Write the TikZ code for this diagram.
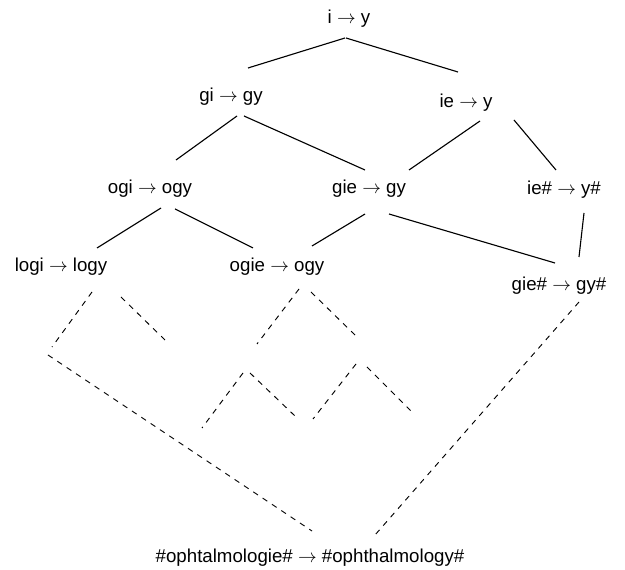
\documentclass[tikz,border=0pt]{standalone}
\usepackage{fontspec}
\setmainfont{Liberation Sans}
\usepackage{tikz}
\usetikzlibrary{positioning,calc}
\tikzstyle{rewrite}=[inner sep=0pt,font=\fontsize{10}{12}\selectfont]
\tikzstyle{mylink}=[line width=0.6pt]
\tikzstyle{mydots}=[dashed,line width=0.5pt]

\begin{document}
\begin{tikzpicture}[x=0.535pt,y=-0.535pt]
                \useasboundingbox (0,0) rectangle (625,570);

                \node[rewrite] (iy) at (349,19) {i $\rightarrow$ y};
                \node[rewrite] (giy) at (231,97) {gi $\rightarrow$ gy};
                \node[rewrite] (iey) at (466,103) {ie $\rightarrow$ y};
                \node[rewrite] (ogi) at (150,189) {ogi $\rightarrow$ ogy};
                \node[rewrite] (gie) at (369,189) {gie $\rightarrow$ gy};
                \node[rewrite] (ieh) at (564,190) {ie\# $\rightarrow$ y\#};
                \node[rewrite] (logi) at (61,267) {logi $\rightarrow$ logy};
                \node[rewrite] (ogie) at (277,267) {ogie $\rightarrow$ ogy};
                \node[rewrite] (gieh) at (559,286) {gie\# $\rightarrow$ gy\#};
                \node[rewrite] (oph) at (310,558) {\#ophtalmologie\# $\rightarrow$ \#ophthalmology\#};

                \draw[mylink] ([shift={(-4,19)}]iy.center) -- ([shift={(17,-29)}]giy.center);
                \draw[mylink] ([shift={(-3,19)}]iy.center) -- ([shift={(-8,-31)}]iey.center);
                \draw[mylink] ([shift={(6,19)}]giy.center) -- ([shift={(26,-29)}]ogi.center);
                \draw[mylink] ([shift={(13,19)}]giy.center) -- ([shift={(-4,-19)}]gie.center);
                \draw[mylink] ([shift={(14,18)}]iey.center) -- ([shift={(40,-19)}]gie.center);
                \draw[mylink] ([shift={(48,17)}]iey.center) -- ([shift={(-8,-20)}]ieh.center);
                \draw[mylink] ([shift={(11,19)}]ogi.center) -- ([shift={(36,-19)}]logi.center);
                \draw[mylink] ([shift={(25,20)}]ogi.center) -- ([shift={(-24,-19)}]ogie.center);
                \draw[mylink] ([shift={(-4,25)}]gie.center) -- ([shift={(35,-21)}]ogie.center);
                \draw[mylink] ([shift={(20,25)}]gie.center) -- ([shift={(-4,-23)}]gieh.center);
                \draw[mylink] ([shift={(20,23)}]ieh.center) -- ([shift={(20,-29)}]gieh.center);

                % the rest of the tree, only hinted at
                \coordinate (l1) at (52,347);
                \coordinate (l2) at (165,340);
                \coordinate (l3) at (48,355);
                \coordinate (o1) at (257,344);
                \coordinate (o2) at (356,336);
                \coordinate (pa) at (243,373);
                \coordinate (pb) at (202,428);
                \coordinate (pc) at (250,373);
                \coordinate (pd) at (295,416);
                \coordinate (qa) at (356,364);
                \coordinate (qb) at (313,419);
                \coordinate (qc) at (367,367);
                \coordinate (qd) at (412,412);

                \draw[mydots] ([shift={(31,25)}]logi.center) -- (l1);
                \draw[mydots] ([shift={(60,30)}]logi.center) -- (l2);
                \draw[mydots] (l3) -- ([shift={(2,-27)}]oph.center);
                \draw[mydots] ([shift={(22,22)}]ogie.center) -- (o1);
                \draw[mydots] ([shift={(34,25)}]ogie.center) -- (o2);
                \draw[mydots] (pa) -- (pb);
                \draw[mydots] (pc) -- (pd);
                \draw[mydots] (qa) -- (qb);
                \draw[mydots] (qc) -- (qd);
                \draw[mydots] ([shift={(20,16)}]gieh.center) -- ([shift={(65,-23)}]oph.center);
\end{tikzpicture}
\end{document}
